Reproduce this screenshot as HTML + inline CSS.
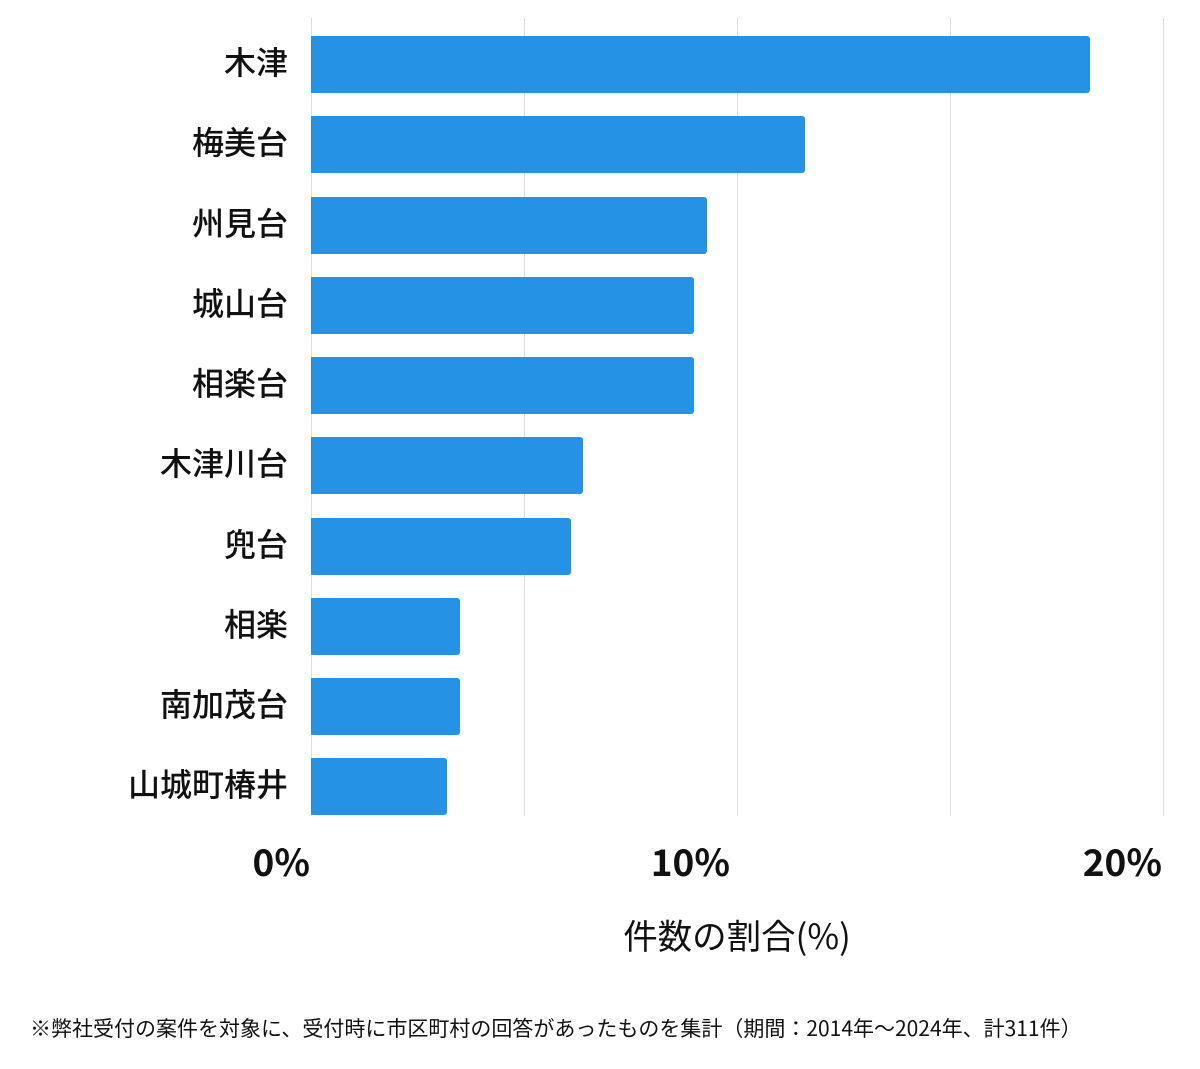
<!DOCTYPE html>
<html><head><meta charset="utf-8"><style>
body{margin:0;width:1200px;height:1069px;background:#fff;position:relative;overflow:hidden;font-family:"Noto Sans CJK JP","Liberation Sans",sans-serif;color:#111}
.g{position:absolute;top:18px;height:798px;width:1px;background:#dcdcdc}
.b{position:absolute;left:311px;height:57px;background:#2592e6;border-radius:0 3px 3px 0}
.l{position:absolute;right:912px;font-size:32px;line-height:57px;margin-top:-3px;white-space:nowrap;font-weight:500}
.t{position:absolute;top:835px;font-size:37px;font-weight:bold;line-height:50px}
</style></head><body>
<div class="g" style="left:311px"></div><div class="g" style="left:524px"></div><div class="g" style="left:737px"></div><div class="g" style="left:950px"></div><div class="g" style="left:1163px"></div>
<div class="b" style="top:36px;width:779px"></div><div class="l" style="top:36px">木津</div>
<div class="b" style="top:116px;width:494px"></div><div class="l" style="top:116px">梅美台</div>
<div class="b" style="top:197px;width:396px"></div><div class="l" style="top:197px">州見台</div>
<div class="b" style="top:277px;width:383px"></div><div class="l" style="top:277px">城山台</div>
<div class="b" style="top:357px;width:383px"></div><div class="l" style="top:357px">相楽台</div>
<div class="b" style="top:437px;width:272px"></div><div class="l" style="top:437px">木津川台</div>
<div class="b" style="top:518px;width:260px"></div><div class="l" style="top:518px">兜台</div>
<div class="b" style="top:598px;width:149px"></div><div class="l" style="top:598px">相楽</div>
<div class="b" style="top:678px;width:149px"></div><div class="l" style="top:678px">南加茂台</div>
<div class="b" style="top:758px;width:136px"></div><div class="l" style="top:758px">山城町椿井</div>
<div class="t" style="right:890px">0%</div>
<div class="t" style="right:470px">10%</div>
<div class="t" style="right:38px">20%</div>
<div style="position:absolute;left:0;width:1474px;text-align:center;top:907px;font-size:34.5px;line-height:54px">件数の割合(%)</div>
<div style="position:absolute;left:30px;top:1012px;font-size:21px;line-height:32px;white-space:nowrap">※弊社受付の案件を対象に、受付時に市区町村の回答があったものを集計（期間：2014年～2024年、計311件）</div>
</body></html>
